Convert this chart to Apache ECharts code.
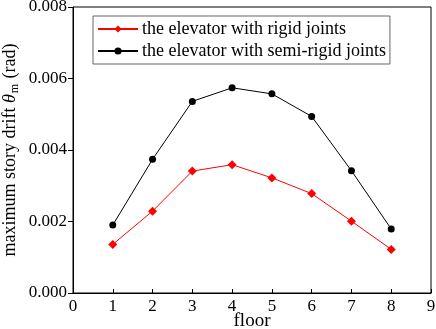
<!DOCTYPE html>
<html>
<head>
<meta charset="utf-8">
<script src="https://cdn.jsdelivr.net/npm/echarts@6/dist/echarts.min.js"></script>
<style>
  html, body { margin: 0; padding: 0; background: #fff; }
  #chart { width: 436px; height: 329px; }
</style>
</head>
<body>
<div id="chart"></div>
<script>
const floors = [1, 2, 3, 4, 5, 6, 7, 8]
const rigidDrift = [0.00136, 0.00229, 0.00341, 0.00359, 0.00322, 0.00278, 0.00201, 0.00122]
const semiRigidDrift = [0.0019, 0.00374, 0.00536, 0.00574, 0.00557, 0.00494, 0.00342, 0.00179]
const rigidName = 'the elevator with rigid joints'
const semiName = 'the elevator with semi-rigid joints'

const font = 'Liberation Serif'
const chart = echarts.init(document.getElementById('chart'))

function pairs(xs, ys) {
  return xs.map((x, i) => [x, ys[i]])
}

chart.setOption({
  animation: false,
  textStyle: { fontFamily: font, color: '#000' },
  grid: {
    left: 73,
    right: 5,
    top: 7,
    bottom: 36,
    outerBoundsMode: 'none',
    containLabel: false,
    show: true,
    borderColor: '#000',
    borderWidth: 1
  },
  legend: {
    orient: 'vertical',
    left: 93,
    top: 16,
    padding: [4, 4, 4, 4],
    itemGap: 4,
    itemWidth: 40,
    itemHeight: 9,
    borderColor: '#666',
    borderWidth: 1,
    textStyle: { fontFamily: font, fontSize: 18, color: '#000', padding: [0, 0, 0, -1] },
    data: [rigidName, semiName]
  },
  xAxis: {
    type: 'value',
    min: 0,
    max: 9,
    interval: 1,
    name: 'floor',
    nameLocation: 'middle',
    nameGap: 19,
    nameMoveOverlap: false,
    nameTextStyle: { fontFamily: font, fontSize: 19, color: '#000', verticalAlign: 'top' },
    axisLine: { lineStyle: { color: '#000', width: 1 } },
    axisTick: { inside: true, length: 4, lineStyle: { color: '#000' } },
    axisLabel: { fontFamily: font, fontSize: 17, color: '#000', margin: 5 },
    splitLine: { show: false }
  },
  yAxis: {
    type: 'value',
    min: 0,
    max: 0.008,
    interval: 0.002,
    name: '{a|maximum story drift }{t|θ}{s|m}{a| (rad)}',
    nameLocation: 'middle',
    nameGap: 52,
    nameMoveOverlap: false,
    nameTextStyle: {
      rich: {
        a: { fontFamily: font, fontSize: 18, color: '#000' },
        t: { fontFamily: font, fontSize: 18, fontStyle: 'italic', color: '#000' },
        s: { fontFamily: font, fontSize: 12, color: '#000', padding: [9, 1, 0, 1] }
      }
    },
    axisLine: { show: true, lineStyle: { color: '#000', width: 1 } },
    axisTick: { show: true, length: 5, lineStyle: { color: '#000' } },
    axisLabel: {
      fontFamily: font,
      fontSize: 17,
      color: '#000',
      margin: 6,
      formatter: v => v.toFixed(3)
    },
    splitLine: { show: false }
  },
  series: [
    {
      name: rigidName,
      type: 'line',
      data: pairs(floors, rigidDrift),
      symbol: 'diamond',
      symbolSize: 9,
      color: '#ff0000',
      lineStyle: { width: 1, color: '#ff0000' },
      itemStyle: { color: '#ff0000' }
    },
    {
      name: semiName,
      type: 'line',
      data: pairs(floors, semiRigidDrift),
      symbol: 'circle',
      symbolSize: 7,
      color: '#000',
      lineStyle: { width: 1, color: '#000' },
      itemStyle: { color: '#000' }
    }
  ]
})
</script>
</body>
</html>
